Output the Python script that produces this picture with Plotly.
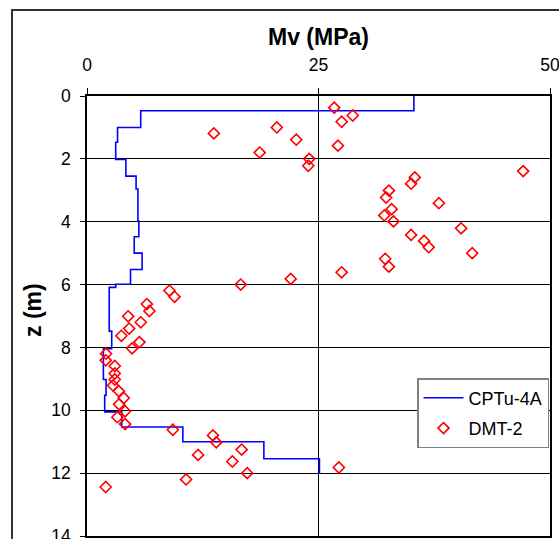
import plotly.graph_objects as go

# CPTu-4A step profile: depth (m) at start of each step and Mv value (MPa)
cptu_depth = [0.0, 0.47, 1.0, 1.47, 2.02, 2.55, 2.96, 3.98, 4.48, 5.0, 5.52, 5.99, 6.09,
              7.48, 8.04, 9.02, 9.52, 10.05, 10.53, 11.0, 11.54, 12.02]
cptu_mv = [35.3, 5.8, 3.3, 3.1, 4.2, 5.3, 5.5, 5.6, 5.1, 5.95, 4.7, 3.1, 2.4,
           2.67, 1.77, 2.06, 1.91, 3.75, 10.35, 19.1, 25.1, 25.1]

# DMT-2 points
dmt_mv = [26.7, 28.7, 27.5, 20.5, 13.7, 22.6, 27.1, 18.65, 24.0, 23.9, 47.1, 35.4, 35.0,
          32.6, 32.3, 38.0, 32.9, 32.1, 33.1, 40.4, 35.0, 36.4, 36.9, 41.6, 32.2, 32.6,
          27.5, 22.0, 16.6, 8.9, 9.45, 6.46, 6.74, 4.44, 5.81, 4.55, 3.71, 5.66, 4.87,
          2.06, 2.02, 3.0, 3.0, 3.0, 2.81, 3.43, 3.97, 3.46, 4.11, 3.28, 4.11, 9.27,
          13.6, 13.96, 16.7, 12.0, 15.7, 17.3, 10.7, 2.02, 27.2]
dmt_z = [0.37, 0.62, 0.82, 1.0, 1.19, 1.39, 1.58, 1.8, 2.0, 2.22, 2.39, 2.59, 2.79,
         3.01, 3.23, 3.41, 3.6, 3.8, 3.99, 4.21, 4.42, 4.61, 4.81, 5.0, 5.18, 5.43,
         5.61, 5.82, 6.0, 6.19, 6.39, 6.62, 6.84, 7.01, 7.2, 7.4, 7.63, 7.83, 8.03,
         8.2, 8.41, 8.59, 8.83, 9.02, 9.21, 9.39, 9.61, 9.81, 10.03, 10.22, 10.44, 10.62,
         10.8, 11.02, 11.25, 11.42, 11.63, 12.0, 12.2, 12.44, 11.82]

x_ticks = [0, 25, 50]
y_ticks = [0, 2, 4, 6, 8, 10, 12, 14]

FONT = "Liberation Sans, Arial, sans-serif"

fig = go.Figure()
fig.add_trace(go.Scatter(
    x=cptu_mv, y=cptu_depth, mode="lines", name="CPTu-4A",
    line=dict(color="#0000FF", width=1.6, shape="vh"), legendgroup="a"))
fig.add_trace(go.Scatter(
    x=dmt_mv, y=dmt_z, mode="markers", name="DMT-2",
    marker=dict(symbol="diamond-open", size=8.5, color="#FF0000",
                line=dict(color="#FF0000", width=1.6)), legendgroup="b"))

W, H = 559, 539
L, R, T, B = 87, 9, 96, 3
pw, ph = W - L - R, H - T - B

fig.update_layout(
    width=W, height=H,
    margin=dict(l=L, r=R, t=T, b=B, autoexpand=False),
    paper_bgcolor="white", plot_bgcolor="white",
    font=dict(family=FONT, size=17, color="black"),
    showlegend=True,
    legend=dict(x=(417 - L) / pw, y=(H - B - 378) / ph, xanchor="left", yanchor="top",
                bgcolor="white", bordercolor="#808080", borderwidth=1.5,
                font=dict(family=FONT, size=18), tracegroupgap=4,
                itemwidth=40),
    xaxis=dict(side="top", range=[0, 50], tickvals=x_ticks, ticktext=[str(v) for v in x_ticks],
               showgrid=True, gridcolor="black", gridwidth=1, zeroline=False,
               showline=True, linecolor="black", linewidth=2, mirror=True,
               ticks="outside", ticklen=6, tickcolor="black", ticklabelstandoff=10,
               ticklabeloverflow="allow", tickfont=dict(size=17.5)),
    yaxis=dict(range=[14, 0], tickvals=y_ticks, ticktext=[str(v) for v in y_ticks],
               showgrid=True, gridcolor="black", gridwidth=1, zeroline=False,
               showline=True, linecolor="black", linewidth=1.5, mirror=True,
               ticks="outside", ticklen=5, tickcolor="black", ticklabelstandoff=6,
               ticklabeloverflow="allow", tickfont=dict(size=17.5)),
    annotations=[
        dict(text="<b>Mv (MPa)</b>", xref="paper", yref="paper", x=0.5,
             y=(H - B - 37) / ph, xanchor="center", yanchor="middle", showarrow=False,
             font=dict(family=FONT, size=23)),
        dict(text="<b>z (m)</b>", xref="paper", yref="paper", x=(33 - L) / pw,
             y=(H - B - 310) / ph, xanchor="center", yanchor="middle", showarrow=False,
             textangle=-90, font=dict(family=FONT, size=23)),
    ],
    shapes=[dict(type="rect", xref="paper", yref="paper",
                 x0=(12 - L) / pw, x1=1.2, y0=-0.2, y1=(H - B - 10) / ph,
                 line=dict(color="#333333", width=2), layer="below")],
)

fig.write_html("out.html")
